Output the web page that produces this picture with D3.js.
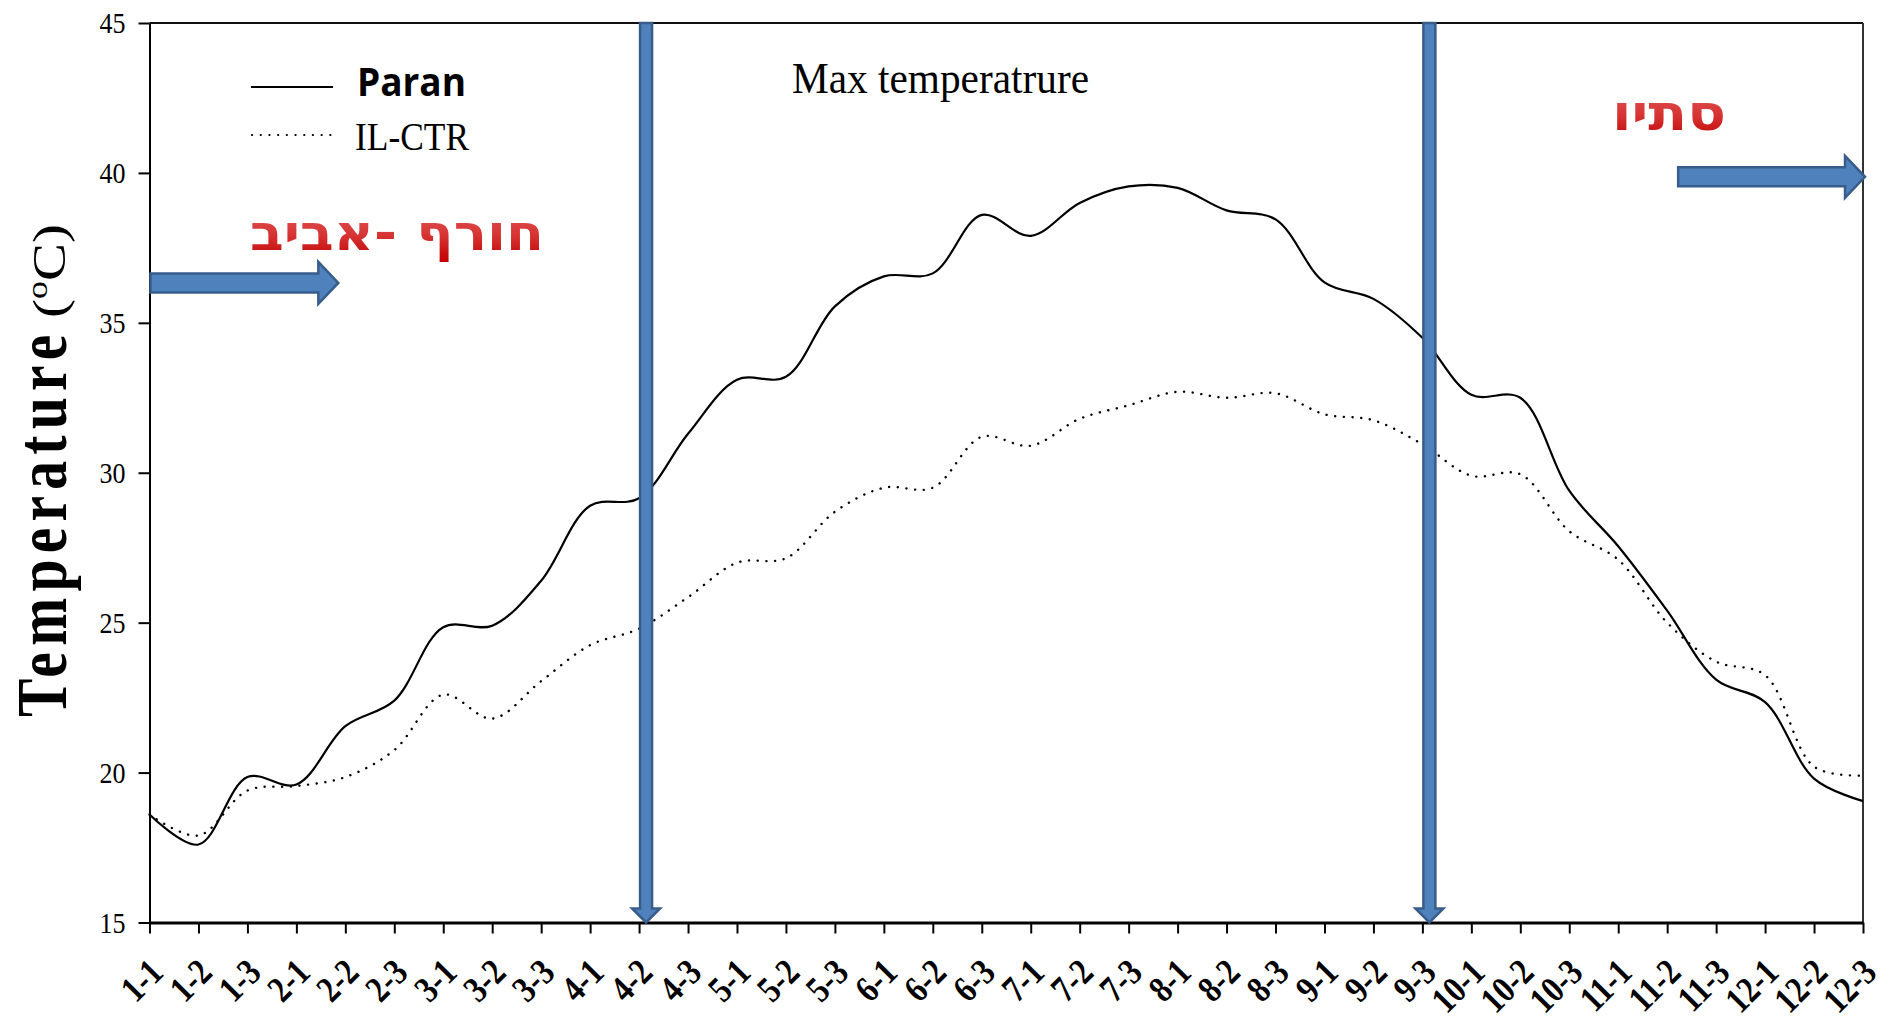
<!DOCTYPE html>
<html>
<head>
<meta charset="utf-8">
<script src="https://cdn.jsdelivr.net/npm/d3@7"></script>
<style>
  html, body { margin: 0; padding: 0; background: #fff; }
  svg { display: block; }
</style>
</head>
<body>
<svg id="chart" width="1883" height="1022"></svg>
<script>
// ---------------- data ----------------
const categories = ["1-1","1-2","1-3","2-1","2-2","2-3","3-1","3-2","3-3","4-1","4-2","4-3",
                    "5-1","5-2","5-3","6-1","6-2","6-3","7-1","7-2","7-3","8-1","8-2","8-3",
                    "9-1","9-2","9-3","10-1","10-2","10-3","11-1","11-2","11-3","12-1","12-2","12-3"];
const paran = [18.6, 17.6, 19.85, 19.6, 21.55, 22.4, 24.85, 24.9, 26.4, 28.9, 29.15, 31.3,
               33.1, 33.2, 35.55, 36.55, 36.65, 38.6, 37.9, 39.0, 39.55, 39.5, 38.75, 38.45,
               36.35, 35.8, 34.5, 32.6, 32.5, 29.4, 27.55, 25.4, 23.1, 22.35, 19.8, 19.05];
const ilctr = [18.6, 17.9, 19.4, 19.55, 19.85, 20.75, 22.6, 21.8, 23.05, 24.25, 24.8, 25.85,
               27.0, 27.15, 28.7, 29.5, 29.5, 31.2, 30.9, 31.8, 32.25, 32.7, 32.5, 32.65,
               31.95, 31.75, 30.95, 29.9, 29.95, 28.05, 27.1, 25.0, 23.7, 23.25, 20.2, 19.9];
const yTicks = [15, 20, 25, 30, 35, 40, 45];
const seriesNames = ["Paran", "IL-CTR"];
const boundaryCats = ["4-2", "9-3"];
const chartTitle = "Max temperatrure";
const seasonLabels = ["חורף -אביב", "סתיו"];

// ---------------- layout ----------------
const L = 149.5, R = 1863, T = 23, B = 922.5;
const svg = d3.select("#chart");
const serif = "'Liberation Serif','Times New Roman',Times,serif";
const hebFont = "'DejaVu Sans','Liberation Sans',Arial,sans-serif";

const x = d3.scalePoint().domain(categories).range([L, R]);
const y = d3.scaleLinear().domain([15, 45]).range([B, T]);

const defs = svg.append("defs");
const grad = defs.append("linearGradient").attr("id", "redgrad")
  .attr("x1", 0).attr("y1", 0).attr("x2", 0).attr("y2", 1);
grad.append("stop").attr("offset", "0%").attr("stop-color", "#e35a5a");
grad.append("stop").attr("offset", "55%").attr("stop-color", "#d63333");
grad.append("stop").attr("offset", "100%").attr("stop-color", "#c00000");

// frame (top and right)
svg.append("line").attr("x1", L).attr("x2", R).attr("y1", T).attr("y2", T)
  .attr("stroke", "#111").attr("stroke-width", 2);
svg.append("line").attr("x1", R).attr("x2", R).attr("y1", T).attr("y2", B)
  .attr("stroke", "#333").attr("stroke-width", 2);

// y axis
const yAxis = svg.append("g").attr("transform", `translate(${L},0)`)
  .call(d3.axisLeft(y).tickValues(yTicks).tickSize(11).tickSizeOuter(0).tickPadding(13));
yAxis.select(".domain").attr("stroke", "#000").attr("stroke-width", 2);
yAxis.selectAll(".tick line").attr("stroke", "#000").attr("stroke-width", 2);
yAxis.selectAll(".tick text").attr("font-family", serif).attr("font-size", 30)
  .attr("fill", "#000").attr("textLength", 26).attr("lengthAdjust", "spacingAndGlyphs");

// x axis
const xAxis = svg.append("g").attr("transform", `translate(0,${B})`)
  .call(d3.axisBottom(x).tickSize(11).tickSizeOuter(0).tickPadding(0));
xAxis.select(".domain").attr("stroke", "#000").attr("stroke-width", 3);
xAxis.selectAll(".tick line").attr("stroke", "#000").attr("stroke-width", 2);
xAxis.selectAll(".tick text")
  .attr("font-family", serif).attr("font-weight", "bold").attr("font-size", 37)
  .attr("fill", "#000").attr("text-anchor", "end")
  .attr("dy", null).attr("y", null)
  .attr("transform", "translate(15,52) rotate(-45) scale(0.84,1)");

// lines
const lineGen = d3.line()
  .x((d, i) => x(categories[i]))
  .y(d => y(d))
  .curve(d3.curveCatmullRom.alpha(0.5));

svg.append("path").datum(ilctr).attr("d", lineGen)
  .attr("fill", "none").attr("stroke", "#000").attr("stroke-width", 2.4)
  .attr("stroke-dasharray", "0.1 8.6").attr("stroke-linecap", "round");
svg.append("path").datum(paran).attr("d", lineGen)
  .attr("fill", "none").attr("stroke", "#000").attr("stroke-width", 2.2);

// vertical season arrows
const arrowFill = "#4f81bd", arrowStroke = "#385d8a";
boundaryCats.forEach(c => {
  const cx = x(c) + 7, bw = 6, hw = 14, hh = 14, y0 = T, yt = B;
  const pts = [[cx - bw, y0], [cx + bw, y0], [cx + bw, yt - hh], [cx + hw, yt - hh], [cx, yt],
               [cx - hw, yt - hh], [cx - bw, yt - hh]];
  svg.append("path").attr("d", "M" + pts.map(p => p.join(",")).join("L") + "Z")
    .attr("fill", arrowFill).attr("stroke", arrowStroke).attr("stroke-width", 2.5);
});

// horizontal arrows
function hArrow(x0, x1, cy) {
  const bh = 9.5, hh = 21, hl = 20;
  const pts = [[x0, cy - bh], [x1 - hl, cy - bh], [x1 - hl, cy - hh], [x1, cy], [x1 - hl, cy + hh],
               [x1 - hl, cy + bh], [x0, cy + bh]];
  svg.append("path").attr("d", "M" + pts.map(p => p.join(",")).join("L") + "Z")
    .attr("fill", arrowFill).attr("stroke", arrowStroke).attr("stroke-width", 2.5);
}
hArrow(L + 1, x("2-2") - 7, y(36.33));
hArrow(x("11-2") + 11, R + 2, y(39.87));

// season labels
svg.append("text").attr("x", 397).attr("y", 250).attr("text-anchor", "middle")
  .attr("font-family", hebFont).attr("font-weight", "bold")
  .attr("font-size", 50).attr("fill", "url(#redgrad)")
  .attr("textLength", 294).attr("lengthAdjust", "spacingAndGlyphs")
  .text(seasonLabels[0]);
svg.append("text").attr("x", 1669).attr("y", 130).attr("text-anchor", "middle")
  .attr("font-family", hebFont).attr("font-weight", "bold")
  .attr("font-size", 50).attr("fill", "url(#redgrad)")
  .attr("textLength", 114).attr("lengthAdjust", "spacingAndGlyphs")
  .text(seasonLabels[1]);

// title
svg.append("text").attr("x", 792).attr("y", 93)
  .attr("font-family", serif).attr("font-size", 44).attr("fill", "#000")
  .attr("textLength", 297).attr("lengthAdjust", "spacingAndGlyphs")
  .text(chartTitle);

// legend
svg.append("line").attr("x1", 251).attr("x2", 333).attr("y1", 87).attr("y2", 87)
  .attr("stroke", "#000").attr("stroke-width", 2.2);
svg.append("text").attr("x", 357).attr("y", 96)
  .attr("font-family", "'Open Sans','Noto Sans',sans-serif").attr("font-weight", "bold")
  .attr("font-size", 40).attr("fill", "#000")
  .attr("textLength", 109).attr("lengthAdjust", "spacingAndGlyphs")
  .text(seriesNames[0]);
svg.append("line").attr("x1", 252).attr("x2", 333).attr("y1", 135).attr("y2", 135)
  .attr("stroke", "#000").attr("stroke-width", 2.2)
  .attr("stroke-dasharray", "0.1 8.6").attr("stroke-linecap", "round");
svg.append("text").attr("x", 355).attr("y", 150)
  .attr("font-family", serif).attr("font-size", 41).attr("fill", "#000")
  .attr("textLength", 114).attr("lengthAdjust", "spacingAndGlyphs")
  .text(seriesNames[1]);

// y-axis title
svg.append("text").attr("transform", "translate(66,717) rotate(-90) scale(0.8,1)")
  .attr("font-family", serif).attr("font-weight", "bold").attr("font-size", 72)
  .attr("fill", "#000").attr("textLength", 478).attr("lengthAdjust", "spacing")
  .text("Temperature");
const unit = svg.append("text").attr("transform", "translate(65,318) rotate(-90)")
  .attr("font-family", serif).attr("font-size", 46).attr("fill", "#000")
  .attr("textLength", 94).attr("lengthAdjust", "spacingAndGlyphs");
unit.append("tspan").text("(");
unit.append("tspan").attr("font-size", 29).attr("dy", -18).text("o");
unit.append("tspan").attr("dy", 18).text("C)");
</script>
</body>
</html>
